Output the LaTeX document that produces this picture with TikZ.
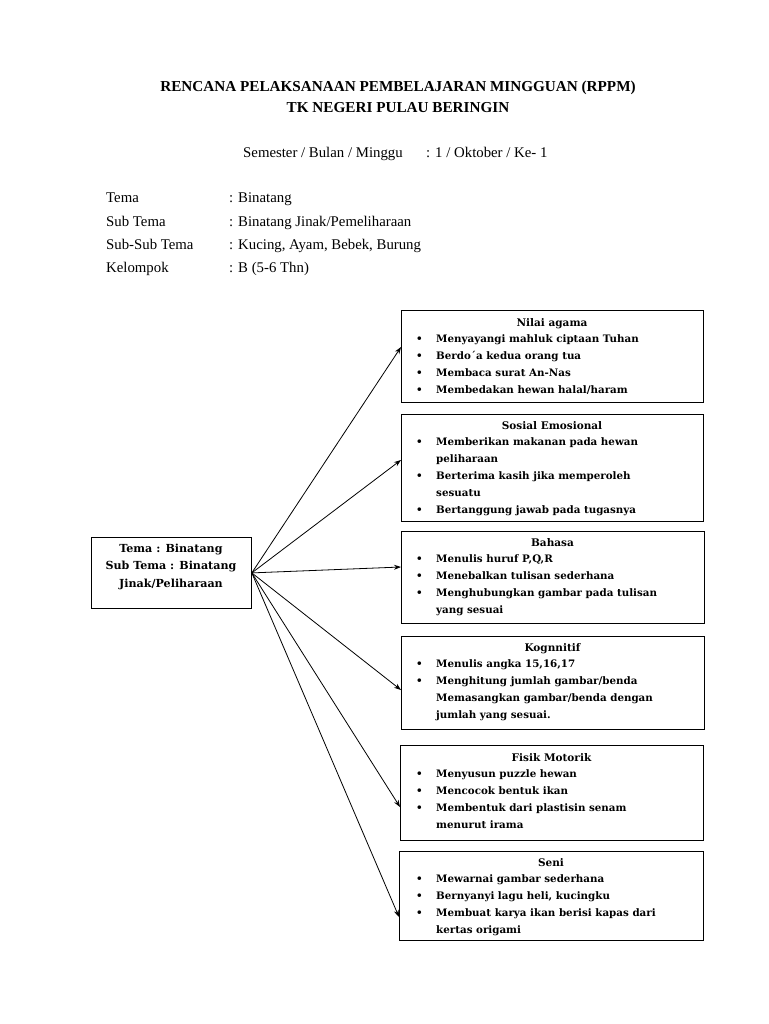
\documentclass[tikz,border=0pt]{standalone}
\usepackage{fontspec}
\setmainfont{Liberation Serif}
\newfontfamily\boxfont{DejaVu Serif}
\usetikzlibrary{arrows.meta}
\newcommand{\bl}[1]{\makebox[20pt][l]{\textbullet}#1}
\newcommand{\nb}[1]{\hspace*{20pt}#1}
\tikzset{
  panel/.style={draw, line width=0.8pt, inner sep=0pt},
  boxtxt/.style={inner sep=0pt, anchor=base west, font=\boxfont\bfseries\fontsize{10.3}{16.8}\selectfont},
  boxttl/.style={inner sep=0pt, anchor=base, font=\boxfont\bfseries\fontsize{10.5}{16.8}\selectfont},
  hdr/.style={inner sep=0pt, anchor=base, font=\bfseries\fontsize{15.2}{17}\selectfont},
  body/.style={inner sep=0pt, anchor=base west, font=\fontsize{14.8}{17}\selectfont},
  arr/.style={-{Stealth[length=7pt,width=5pt]}, line width=0.8pt}
}
% #1 name, #2 x1, #3 y1, #4 x2, #5 y2, #6 title, #7 title baseline, #8 lines
\newcommand{\planbox}[8]{%
  \node[panel, minimum width={#4pt-#2pt}, minimum height={#5pt-#3pt}, anchor=north west] (#1) at (#2pt,-#3pt) {};
  \node[boxttl] (#1-t) at ({(#2pt+#4pt)/2},-#7pt) {#6};
  \node[boxtxt] (#1-b) at (416pt,-#7pt-16.8pt) {\parbox[t]{290pt}{\baselineskip=16.8pt #8}};
}
\begin{document}
\begin{tikzpicture}[x=1pt,y=1pt]
\useasboundingbox[fill=white] (0,0) rectangle (768,-1024);
\node[hdr] (h1) at (398,-92) {RENCANA PELAKSANAAN PEMBELAJARAN MINGGUAN (RPPM)};
\node[hdr] (h2) at (398,-113) {TK NEGERI PULAU BERINGIN};
\node[body] (sem) at (243,-158) {Semester / Bulan / Minggu};
\node[body] (semv) at (426,-158) {: 1 / Oktober / Ke- 1};
\node[body] (l1) at (106,-203) {Tema};
\node[body] (v1) at (229,-203) {: Binatang};
\node[body] (l2) at (106,-226) {Sub Tema};
\node[body] (v2) at (229,-226) {: Binatang Jinak/Pemeliharaan};
\node[body] (l3) at (106,-249) {Sub-Sub Tema};
\node[body] (v3) at (229,-249) {: Kucing, Ayam, Bebek, Burung};
\node[body] (l4) at (106,-272) {Kelompok};
\node[body] (v4) at (229,-272) {: B (5-6 Thn)};

\node[panel, minimum width=160pt, minimum height=71pt, anchor=north west] (c) at (91,-537) {};
\node[inner sep=0pt, anchor=base, font=\boxfont\bfseries\fontsize{11.1}{17.5}\selectfont] (ct) at (171,-552) {\parbox[t]{158pt}{\centering\baselineskip=17.5pt Tema : Binatang\\Sub Tema : Binatang\\Jinak/Peliharaan}};

\planbox{n1}{401}{310}{703}{402}{Nilai agama}{326}{%
\bl{Menyayangi mahluk ciptaan Tuhan}\\
\bl{Berdo\textasciiacute a kedua orang tua}\\
\bl{Membaca surat An-Nas}\\
\bl{Membedakan hewan halal/haram}}
\planbox{n2}{401}{414}{703}{521}{Sosial Emosional}{429}{%
\bl{Memberikan makanan pada hewan}\\
\nb{peliharaan}\\
\bl{Berterima kasih jika memperoleh}\\
\nb{sesuatu}\\
\bl{Bertanggung jawab pada tugasnya}}
\planbox{n3}{401}{531}{704}{623}{Bahasa}{546}{%
\bl{Menulis huruf P,Q,R}\\
\bl{Menebalkan tulisan sederhana}\\
\bl{Menghubungkan gambar pada tulisan}\\
\nb{yang sesuai}}
\planbox{n4}{401}{636}{704}{729}{Kognnitif}{651}{%
\bl{Menulis angka 15,16,17}\\
\bl{Menghitung jumlah gambar/benda}\\
\nb{Memasangkan gambar/benda dengan}\\
\nb{jumlah yang sesuai.}}
\planbox{n5}{400}{745}{703}{840}{Fisik Motorik}{761}{%
\bl{Menyusun puzzle hewan}\\
\bl{Mencocok bentuk ikan}\\
\bl{Membentuk dari plastisin senam}\\
\nb{menurut irama}}
\planbox{n6}{399}{851}{703}{940}{Seni}{866}{%
\bl{Mewarnai gambar sederhana}\\
\bl{Bernyanyi lagu heli, kucingku}\\
\bl{Membuat karya ikan berisi kapas dari}\\
\nb{kertas origami}}

\coordinate (o) at (c.east);
\draw[arr] (o) -- (n1.west |- 0,-347);
\draw[arr] (o) -- (n2.west |- 0,-460);
\draw[arr] (o) -- (n3.west |- 0,-567);
\draw[arr] (o) -- (n4.west |- 0,-690);
\draw[arr] (o) -- (n5.west |- 0,-807);
\draw[arr] (o) -- (n6.west |- 0,-917);
\end{tikzpicture}
\end{document}
